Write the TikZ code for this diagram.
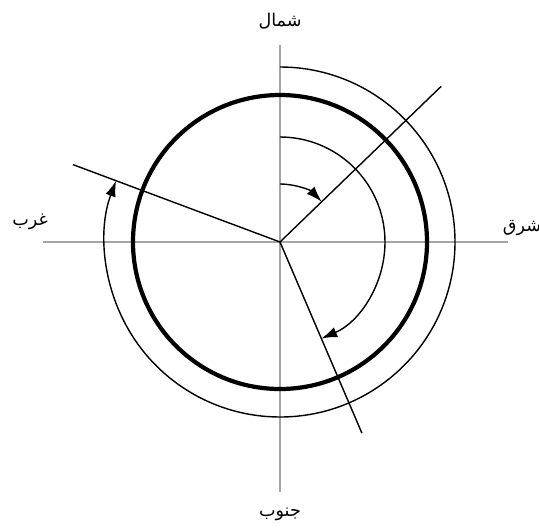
\documentclass[tikz,border=0pt]{standalone}
\usepackage{fontspec}
\usepackage{tikz}
\usetikzlibrary{arrows.meta}
\TeXXeTstate=1
\newfontfamily\arabicfont[Script=Arabic]{DejaVu Sans}

\tikzset{
    axisline/.style={gray!70, line width=0.8pt},
    ray/.style={black, line width=0.8pt},
    turn/.style={black, line width=0.8pt, -{Latex[length=9pt, width=6pt]}},
    dirlabel/.style={font=\arabicfont\fontsize{10}{12}\selectfont, inner sep=1pt}
}

\begin{document}
\begin{tikzpicture}[scale=0.02]
    \useasboundingbox (-280,-288) rectangle (259,242);
    \coordinate (O) at (0,0);

    % axes and direction labels
    \coordinate (ntop) at (0,197);
    \coordinate (sbot) at (0,-250);
    \coordinate (eend) at (228,0);
    \coordinate (wend) at (-237,0);
    \node[dirlabel] (north) at (0,221) {\beginR شمال\endR};
    \node[dirlabel] (south) at (0,-272) {\beginR جنوب\endR};
    \node[dirlabel] (east) at (242,14) {\beginR شرق\endR};
    \node[dirlabel] (west) at (-250,20) {\beginR غرب\endR};
    \draw[axisline] (ntop) -- (sbot);
    \draw[axisline] (wend) -- (eend);

    % circle
    \draw[black, line width=2.4pt] (O) circle (147);

    % rays
    \coordinate (ne) at (44:224);
    \coordinate (sse) at (-66.8:208);
    \coordinate (wnw) at (159.5:221);
    \draw[ray] (O) -- (ne);
    \draw[ray] (O) -- (sse);
    \draw[ray] (O) -- (wnw);

    % turning arcs
    \draw[turn] (90:58) arc[start angle=90, end angle=44, radius=58];
    \draw[turn] (90:105) arc[start angle=90, end angle=-66.8, radius=105];
    \draw[turn] (90:175) arc[start angle=90, end angle=-200.5, radius=175];
\end{tikzpicture}
\end{document}
